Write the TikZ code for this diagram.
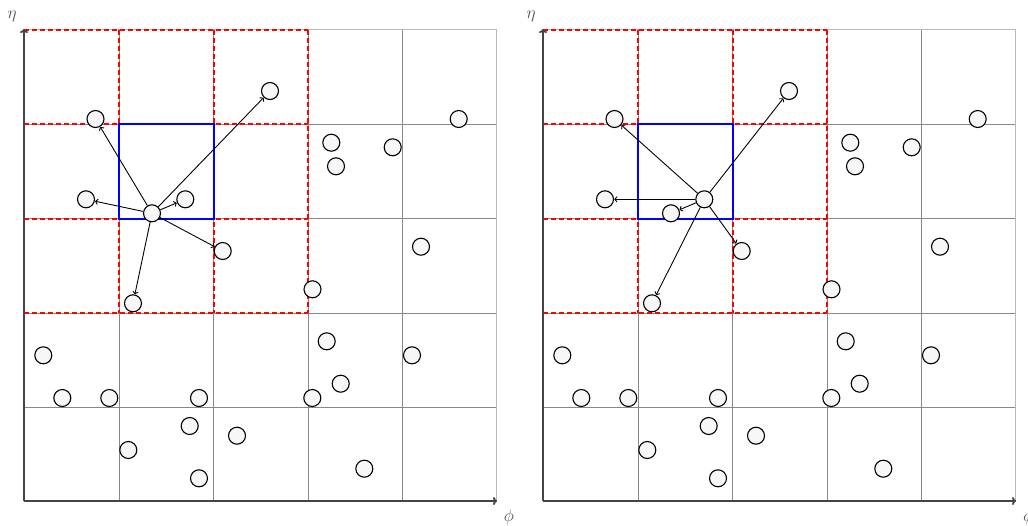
\documentclass[tikz,border=0pt]{standalone}
\usetikzlibrary{arrows.meta}
\definecolor{gridgray}{HTML}{888888}
\definecolor{axisgray}{HTML}{444444}
\definecolor{partfill}{HTML}{F7F7F7}
\definecolor{labelgray}{HTML}{505050}
\tikzset{
  gridline/.style={gridgray,line width=0.9pt},
  axisline/.style={axisgray,line width=1.8pt,-{To[length=4pt,width=8pt]}},
  nbrline/.style={red,line width=2pt,dash pattern=on 5pt off 3pt},
  cellline/.style={blue,line width=2pt},
  particle/.style={circle,draw=black,fill=partfill,line width=1.1pt,minimum size=17pt,inner sep=0pt},
  link/.style={black,line width=0.9pt,-{To[length=3pt,width=6pt]},shorten >=0.3pt},
  axlabel/.style={labelgray,font=\fontsize{18}{21}\selectfont,inner sep=0pt}
}
\newcommand{\drawpanel}[4]{%
  \begin{scope}[xshift=#1]
    % grid
    \foreach \g in {119,213.5,308,402.5}{\draw[gridline] (\g,29.5) -- (\g,501);}
    \foreach \g in {124,218.5,313,407.5}{\draw[gridline] (24,\g) -- (496.5,\g);}
    \draw[gridline,gridgray!60] (24,29.5) -- (496.5,29.5) -- (496.5,501);
    % neighbour cells
    \foreach \g in {24,119,213.5,308}{\draw[nbrline] (\g,29.5) -- (\g,313);}
    \foreach \g in {29.5,124,218.5,313}{\draw[nbrline] (24,\g) -- (308,\g);}
    \draw[cellline] (119,124) rectangle (213.5,218.5);
    % axes
    \coordinate (#2o) at (24,501);
    \coordinate (#2x) at (497,501);
    \coordinate (#2y) at (24,29);
    \draw[axisline] (#2o) -- (#2x);
    \draw[axisline] (#2o) -- (#2y);
    \node[axlabel] (#2eta) at (12,16) {$\eta$};
    \node[axlabel] (#2phi) at (509,517) {$\phi$};
    % particles
    \foreach \n/\px/\py in {1/95.5/119,2/270/91,3/86/199.3,4/185.3/199.3,5/152/213.3,6/222.7/251,7/133/303.3,8/312.5/289.3,9/331.3/142.7,10/336/166.3,11/392.7/147.3,12/458.7/119,13/421/246.7,14/43.3/355.3,15/62.3/398,16/109.3/398,17/199/398,18/312.3/398,19/326.7/341.3,20/340.7/383.7,21/412/355.3,22/189.7/426,23/237/435.7,24/128.3/450,25/199/478.3,26/364.3/468.7}{
      \node[particle] (#2p\n) at (\px,\py) {};
    }
    % links
    \foreach \t in {#3}{\draw[link] (#2p#4) -- (#2p\t);}
  \end{scope}
}
\begin{document}
\begin{tikzpicture}[x=1pt,y=-1pt]
\useasboundingbox (0,0) rectangle (1028,525);
\drawpanel{0pt}{L}{1,2,3,4,6,7}{5}
\drawpanel{519pt}{R}{1,2,3,5,6,7}{4}
\end{tikzpicture}
\end{document}
